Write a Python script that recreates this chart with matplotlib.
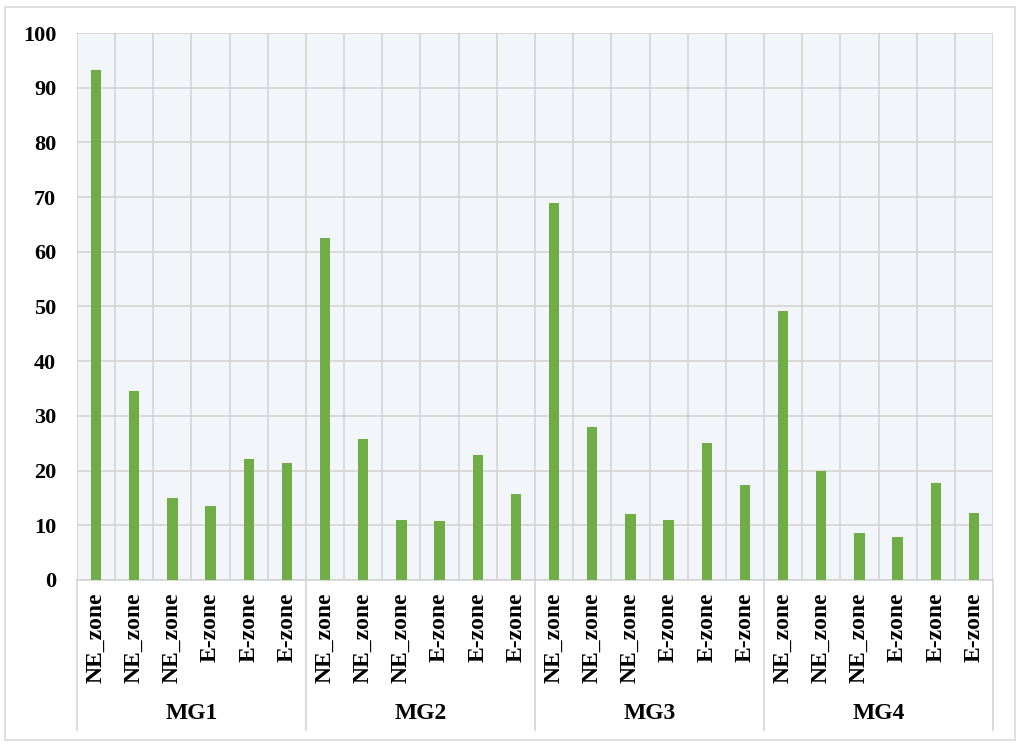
import numpy as np
import matplotlib.pyplot as plt
from matplotlib.patches import Rectangle
from matplotlib.transforms import blended_transform_factory

# data
groups = ['MG1', 'MG2', 'MG3', 'MG4']
zones = ['NE_zone', 'NE_zone', 'NE_zone', 'E-zone', 'E-zone', 'E-zone']
mg1 = [93.2, 34.5, 15.0, 13.6, 22.2, 21.3]
mg2 = [62.5, 25.7, 11.0, 10.7, 22.8, 15.8]
mg3 = [68.9, 28.0, 12.0, 11.0, 25.0, 17.3]
mg4 = [49.2, 20.0, 8.6, 7.8, 17.7, 12.3]

values = mg1 + mg2 + mg3 + mg4
labels = zones * len(groups)
x = np.arange(len(values))

plt.rcParams['font.family'] = ['Liberation Serif', 'DejaVu Serif']
plt.rcParams['font.weight'] = 'bold'

fig = plt.figure(figsize=(10.21, 7.47), dpi=100)
ax = fig.add_axes([0.0754, 0.2236, 0.8972, 0.7322])
ax.set_facecolor('#f2f5f9')

ax.bar(x, values, width=0.27, color='#70ad47', zorder=3)

ax.set_xlim(-0.5, len(values) - 0.5)
ax.set_ylim(0, 100)
ax.set_yticks(np.arange(0, 101, 10))
ax.set_xticks(x)
ax.set_xticklabels(labels, rotation=90, fontsize=17, fontweight='bold')
ax.set_xticks(np.arange(-0.5, len(values), 1), minor=True)
ax.tick_params(axis='y', labelsize=16, length=0, pad=15)
ax.tick_params(axis='x', which='both', length=0, pad=9)
for lab in ax.get_yticklabels():
    lab.set_fontweight('bold')

ax.grid(axis='y', color='#d4d4d4', lw=1.2, zorder=0)
ax.grid(axis='x', which='minor', color='#d4d4d4', lw=1.2, zorder=0)
ax.grid(axis='x', which='major', visible=False)

for s in ['top', 'right', 'left']:
    ax.spines[s].set_visible(False)
ax.spines['bottom'].set_color('#d4d4d4')
ax.spines['bottom'].set_linewidth(1.2)

# group separators and names below the axis
trans = blended_transform_factory(ax.transData, ax.transAxes)
n = len(zones)
for i in range(len(groups) + 1):
    xb = i * n - 0.5
    ax.plot([xb, xb], [0, -0.274], color='#d4d4d4', lw=1.2,
            transform=trans, clip_on=False)
for i, g in enumerate(groups):
    ax.text(i * n + (n - 1) / 2, -0.245, g, transform=trans,
            ha='center', va='center', fontsize=17, fontweight='bold')

fig.patches.append(Rectangle((5 / 1021, 7 / 747), 1010 / 1021, 733 / 747,
                             transform=fig.transFigure, fill=False,
                             edgecolor='#d9d9d9', lw=1.2))

fig.savefig('out.png', dpi=100)
